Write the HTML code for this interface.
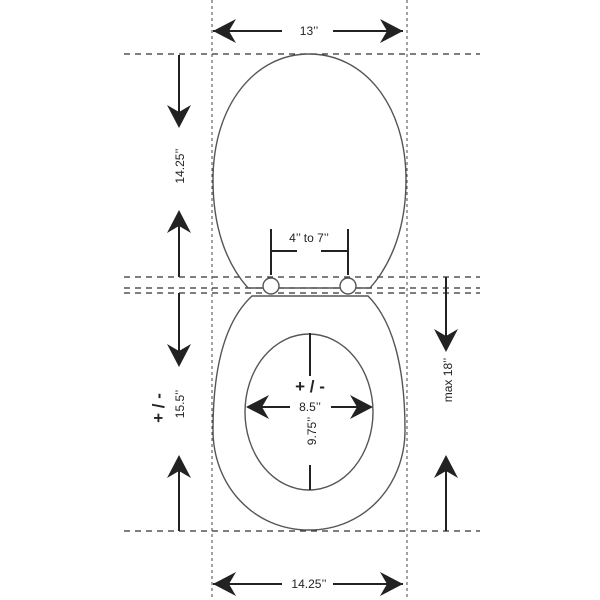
<!DOCTYPE html>
<html><head><meta charset="utf-8"><style>body{margin:0;background:#fff}svg{display:block}</style></head><body>
<svg width="600" height="600" viewBox="0 0 600 600" xmlns="http://www.w3.org/2000/svg" font-family="Liberation Sans, sans-serif">
<defs><path id="ah" d="M0,0 L-23,-12 L-16,0 L-23,12 Z" fill="#222"/></defs>
<g stroke="#333" stroke-width="1.3" stroke-dasharray="6,5" fill="none">
<line x1="124" y1="54" x2="480" y2="54"/>
<line x1="124" y1="277" x2="480" y2="277"/>
<line x1="124" y1="288" x2="480" y2="288"/>
<line x1="124" y1="293" x2="480" y2="293"/>
<line x1="124" y1="531" x2="480" y2="531"/>
</g>
<g stroke="#444" stroke-width="1" stroke-dasharray="3,3" fill="none">
<line x1="212" y1="0" x2="212" y2="600"/>
<line x1="407" y1="0" x2="407" y2="600"/>
</g>
<g stroke="#555" stroke-width="1.4" fill="none">
<path d="M248,288 C225,262 213,225 213,180 C213,105 255,54 309,54 C364,54 406,105 406,180 C406,225 393,262 370,288 Z"/>
<circle cx="271" cy="286" r="8" fill="#fff"/>
<circle cx="348" cy="286" r="8" fill="#fff"/>
<path d="M252,296 L368,296 C392,320 405,365 405,430 C405,485 365,530 309,530 C253,530 213,485 213,430 C213,365 226,320 252,296 Z"/>
<ellipse cx="309" cy="412" rx="64" ry="78"/>
</g>
<g stroke="#222" stroke-width="2" fill="none">
<line x1="213" y1="31" x2="282" y2="31"/><line x1="333" y1="31" x2="403" y2="31"/>
<line x1="213" y1="584" x2="282" y2="584"/><line x1="333" y1="584" x2="403" y2="584"/>
<line x1="179" y1="55" x2="179" y2="120"/>
<line x1="179" y1="220" x2="179" y2="277"/>
<line x1="179" y1="293" x2="179" y2="360"/>
<line x1="179" y1="462" x2="179" y2="531"/>
<line x1="446" y1="277" x2="446" y2="345"/>
<line x1="446" y1="462" x2="446" y2="531"/>
<line x1="271" y1="229" x2="271" y2="275"/><line x1="348" y1="229" x2="348" y2="275"/>
<line x1="271" y1="251" x2="297" y2="251"/><line x1="321" y1="251" x2="348" y2="251"/>
<line x1="310" y1="333" x2="310" y2="376"/>
<line x1="310" y1="465" x2="310" y2="490"/>
<line x1="250" y1="407" x2="290" y2="407"/><line x1="331" y1="407" x2="370" y2="407"/>
</g>
<use href="#ah" transform="translate(213,31) rotate(180)"/>
<use href="#ah" transform="translate(403,31)"/>
<use href="#ah" transform="translate(213,584) rotate(180)"/>
<use href="#ah" transform="translate(403,584)"/>
<use href="#ah" transform="translate(179,128) rotate(90)"/>
<use href="#ah" transform="translate(179,210) rotate(-90)"/>
<use href="#ah" transform="translate(179,367) rotate(90)"/>
<use href="#ah" transform="translate(179,455) rotate(-90)"/>
<use href="#ah" transform="translate(446,352) rotate(90)"/>
<use href="#ah" transform="translate(446,455) rotate(-90)"/>
<use href="#ah" transform="translate(246,407) rotate(180)"/>
<use href="#ah" transform="translate(373,407)"/>
<g fill="#222" font-size="12">
<text x="309" y="35" text-anchor="middle">13’’</text>
<text x="309" y="588" text-anchor="middle">14.25’’</text>
<text x="309" y="242" text-anchor="middle">4’’ to 7’’</text>
<text x="310" y="411" text-anchor="middle">8.5’’</text>
<text transform="translate(184,166) rotate(-90)" text-anchor="middle">14.25’’</text>
<text transform="translate(184,404) rotate(-90)" text-anchor="middle">15.5’’</text>
<text transform="translate(452,380) rotate(-90)" text-anchor="middle">max 18’’</text>
<text transform="translate(316,431) rotate(-90)" text-anchor="middle">9.75’’</text>
</g>
<text x="310" y="392" text-anchor="middle" font-size="17" font-weight="bold" fill="#222">+ / -</text>
<text transform="translate(164,408) rotate(-90)" text-anchor="middle" font-size="17" font-weight="bold" fill="#222">+ / -</text>
</svg>
</body></html>
